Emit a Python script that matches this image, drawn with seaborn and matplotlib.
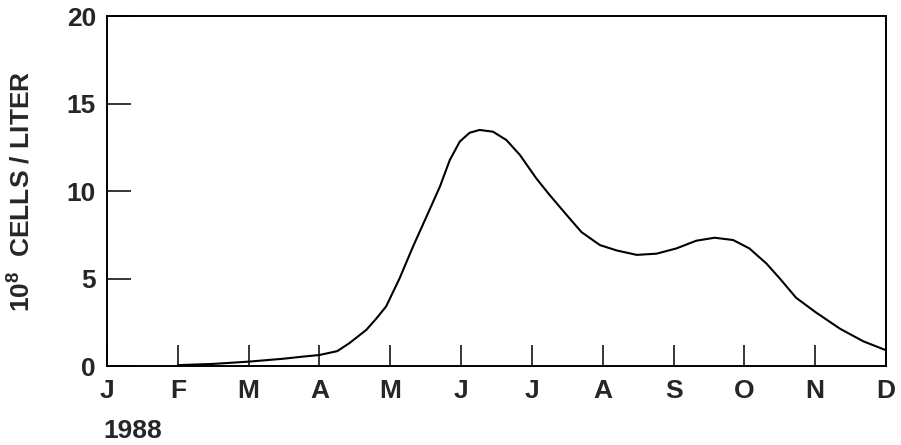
import matplotlib
matplotlib.use('Agg')
import matplotlib.pyplot as plt
import seaborn as sns
import pandas as pd

# -- data (month index: 0 = Jan, 11 = Dec) --
MONTH_LABELS = ['J', 'F', 'M', 'A', 'M', 'J', 'J', 'A', 'S', 'O', 'N', 'D']
month = [1.0, 1.5, 2.0, 2.5, 2.75, 3.0, 3.25, 3.42, 3.66, 3.8, 3.94, 4.13,
         4.32, 4.51, 4.7, 4.84, 4.98, 5.12, 5.26, 5.45, 5.64, 5.83, 6.06,
         6.25, 6.49, 6.7, 6.96, 7.2, 7.48, 7.76, 8.04, 8.32, 8.58, 8.84,
         9.07, 9.31, 9.5, 9.73, 10.0, 10.35, 10.68, 11.0]
cells = [0.05, 0.12, 0.25, 0.42, 0.53, 0.63, 0.85, 1.3, 2.06, 2.7, 3.4, 5.0,
         6.82, 8.53, 10.25, 11.77, 12.82, 13.33, 13.49, 13.39, 12.91, 12.06, 10.73,
         9.77, 8.63, 7.65, 6.91, 6.6, 6.35, 6.42, 6.72, 7.16, 7.33, 7.2,
         6.72, 5.86, 5.0, 3.9, 3.09, 2.13, 1.41, 0.9]

df = pd.DataFrame({'month': month, 'cells': cells})

sns.set_style('ticks')
plt.rcParams['font.family'] = ['Liberation Sans', 'DejaVu Sans']
plt.rcParams['font.weight'] = 'bold'
plt.rcParams['mathtext.fontset'] = 'custom'
plt.rcParams['mathtext.bf'] = 'Liberation Sans:bold'
plt.rcParams['mathtext.rm'] = 'Liberation Sans:bold'
plt.rcParams['lines.solid_joinstyle'] = 'round'

fig = plt.figure(figsize=(9.01, 4.45), dpi=100)
ax = fig.add_axes([0.1188, 0.1775, 0.8646, 0.7865])

sns.lineplot(data=df, x='month', y='cells', ax=ax, color='black', linewidth=1.5)

ax.set_xlim(0, 11)
ax.set_ylim(0, 20)
ax.set_xticks(range(12))
ax.set_xticklabels(MONTH_LABELS)
ax.set_yticks([0, 5, 10, 15, 20])
ax.tick_params(axis='x', direction='in', length=15, width=1.3, pad=9, labelsize=19)
ax.tick_params(axis='y', direction='in', length=17, width=1.3, pad=8, labelsize=19)
for s in ax.spines.values():
    s.set_linewidth(1.4)
    s.set_color('black')

ax.set_xlabel('')
ax.set_ylabel(r'$\mathbf{10^8}$  CELLS / LITER', fontsize=19, fontweight='bold')
ax.yaxis.set_label_coords(-0.092, 0.5)

fig.text(103 / 901, 1 - 431 / 445, '1988', fontsize=19, fontweight='bold', va='center', ha='left')

fig.savefig('out.png', dpi=100)
